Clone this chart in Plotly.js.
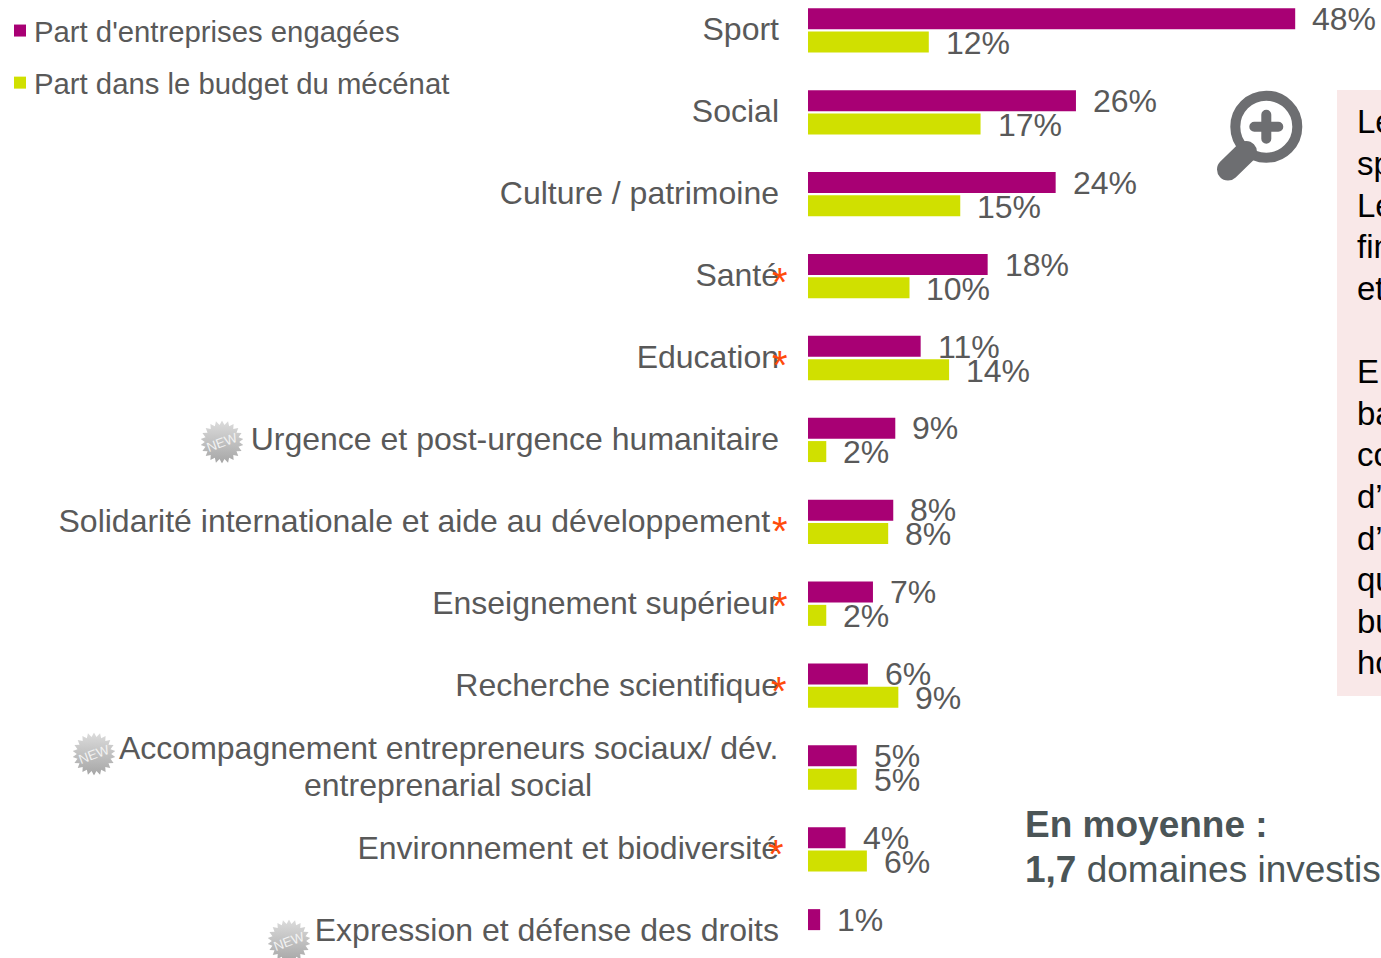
<!DOCTYPE html>
<html><head><meta charset="utf-8">
<script src="https://cdn.plot.ly/plotly-3.0.1.min.js"></script>
<style>html,body{margin:0;padding:0;background:#fff;overflow:hidden}#c{width:1381px;height:958px}</style>
</head><body><div id="c"></div>
<script>
const W=1381,H=958,X0=808;
const categories=["Sport","Social","Culture / patrimoine","Santé","Education","Urgence et post-urgence humanitaire","Solidarité internationale et aide au développement\u00a0","Enseignement supérieur","Recherche scientifique","Accompagnement entrepreneurs sociaux/ dév.<br>entreprenarial social","Environnement et biodiversité","Expression et défense des droits"];
const entreprises=[48,26.4,24.4,17.7,11.1,8.6,8.4,6.4,5.9,4.8,3.7,1.2];
const budget=[11.9,17,15,10,13.9,1.8,7.9,1.8,8.9,4.8,5.8,null];
const labelsEntreprises=["48%","26%","24%","18%","11%","9%","8%","7%","6%","5%","4%","1%"];
const labelsBudget=["12%","17%","15%","10%","14%","2%","8%","2%","9%","5%","6%",""];
const stars=[[780,282],[780,365],[780,531],[780,606],[779,691],[776,854]];
const newBadges=[[222,442],[94,754],[289,941]];
const boxLines=["Le","sp","Le","fin","et","","E","ba","co","d’","d’","qu","bu","ho"];
const PURPLE="#A80074",LIME="#D0E000",GREY="#595959";
const FONT='"Liberation Sans",Arial,sans-serif';
const px=x=>x/W, py=y=>1-y/H;
const unit=10.15, rowH=81.9, y0=30.4;
const annotations=[];
const note=(x,y,text,o)=>annotations.push(Object.assign({xref:'paper',yref:'paper',x:px(x),y:py(y),text,showarrow:false,xanchor:'left',yanchor:'middle',borderpad:0,font:{family:FONT,size:32,color:GREY}},o||{}));
categories.forEach((c,i)=>{
  annotations.push({x:entreprises[i],y:i,xref:'x',yref:'y',text:labelsEntreprises[i],showarrow:false,xanchor:'left',yanchor:'middle',xshift:15,yshift:11.5,font:{family:FONT,size:32,color:GREY}});
  if(budget[i]!==null)annotations.push({x:budget[i],y:i,xref:'x',yref:'y',text:labelsBudget[i],showarrow:false,xanchor:'left',yanchor:'middle',xshift:15,yshift:-12.5,font:{family:FONT,size:32,color:GREY}});
});
stars.forEach(s=>note(s[0],s[1],"*",{xanchor:'center',font:{family:FONT,size:40,color:"#FF4B0A"}}));
newBadges.forEach(b=>note(b[0],b[1],"NEW",{xanchor:'center',textangle:-20,font:{family:FONT,size:13.5,color:"#F2F2F2"}}));
const twoLine=categories[9].split("<br>");
note(778.5,748,twoLine[0],{xanchor:'right'});
note(448,785,twoLine[1],{xanchor:'center'});
note(1024,824,"<b>En moyenne :</b>",{font:{family:FONT,size:37,color:"#4B5557"}});
note(1024,869,"<b>1,7</b> domaines investis",{font:{family:FONT,size:37,color:"#4B5557"}});
boxLines.forEach((t,i)=>{if(t)note(1356,122+i*41.6,t,{font:{family:FONT,size:33,color:"#000"}})});
const burst=(()=>{let p=[];for(let i=0;i<44;i++){const r=i%2?50:40,a=i*Math.PI/22;p.push((50+r*Math.cos(a)).toFixed(1)+','+(50+r*Math.sin(a)).toFixed(1));}
 return "data:image/svg+xml;utf8,"+encodeURIComponent('<svg xmlns="http://www.w3.org/2000/svg" viewBox="0 0 100 100"><defs><linearGradient id="g" x1="0" y1="0" x2="0" y2="1"><stop offset="0" stop-color="#dcdcdc"/><stop offset="1" stop-color="#a6a6a6"/></linearGradient></defs><polygon fill="url(#g)" points="'+p.join(' ')+'"/></svg>');})();
const lens="data:image/svg+xml;utf8,"+encodeURIComponent('<svg xmlns="http://www.w3.org/2000/svg" viewBox="0 0 90 94"><g fill="none" stroke="#6D6E71" stroke-linecap="round"><circle cx="50.3" cy="36.7" r="31" stroke-width="10"/><path d="M38.3 36.7H62.3M50.3 24.7V48.7" stroke-width="10"/><path d="M12 79.5L30 62" stroke-width="22"/></g></svg>');
const images=newBadges.map(b=>({source:burst,xref:'paper',yref:'paper',x:px(b[0]-21.5),y:py(b[1]-21.5),sizex:43/W,sizey:43/H,xanchor:'left',yanchor:'top',sizing:'stretch',layer:'below'}));
images.push({source:lens,xref:'paper',yref:'paper',x:px(1216),y:py(90),sizex:90/W,sizey:94/H,xanchor:'left',yanchor:'top',sizing:'stretch'});
const shapes=[{type:'rect',xref:'paper',yref:'paper',x0:px(1337),x1:px(1381),y0:py(90),y1:py(696),fillcolor:"#F9E8E8",line:{width:0},layer:'below'}];
const data=[
 {type:'bar',orientation:'h',name:"Part d'entreprises engagées",legendgroup:'a',y:categories.map((c,i)=>i),x:entreprises,marker:{color:PURPLE},hoverinfo:'skip'},
 {type:'bar',orientation:'h',name:"Part dans le budget du mécénat",legendgroup:'b',y:categories.map((c,i)=>i),x:budget,marker:{color:LIME},hoverinfo:'skip'}
];
const layout={width:W,height:H,margin:{l:0,r:0,t:0,b:0,pad:0,autoexpand:false},paper_bgcolor:'#fff',plot_bgcolor:'rgba(0,0,0,0)',
 barmode:'group',bargap:0.43,bargroupgap:0.1,showlegend:true,
 legend:{x:0.0,y:1-5/H,xanchor:'left',yanchor:'top',traceorder:'grouped',tracegroupgap:11,itemclick:false,font:{family:FONT,size:29.3,color:GREY},bgcolor:'rgba(0,0,0,0)'},
 xaxis:{domain:[X0/W,1],range:[0,(W-X0)/unit],visible:false,fixedrange:true},
 yaxis:{range:[(H-y0)/rowH,-y0/rowH],tickmode:'array',tickvals:categories.map((c,i)=>i),ticktext:categories.map(c=>c.includes("<br>")?"":c),ticks:'',showline:false,showgrid:false,zeroline:false,ticklabelstandoff:28,tickfont:{family:FONT,size:32,color:GREY},fixedrange:true},
 annotations,shapes,images,font:{family:FONT}};
Plotly.newPlot('c',data,layout,{displayModeBar:false,staticPlot:true}).then(()=>{
  document.querySelectorAll('.legendtext').forEach(t=>{t.setAttribute('x',parseFloat(t.getAttribute('x'))-6);});
  document.querySelectorAll('.ytick text').forEach(t=>{t.setAttribute('y',parseFloat(t.getAttribute('y'))-1.3);});
});
</script></body></html>
